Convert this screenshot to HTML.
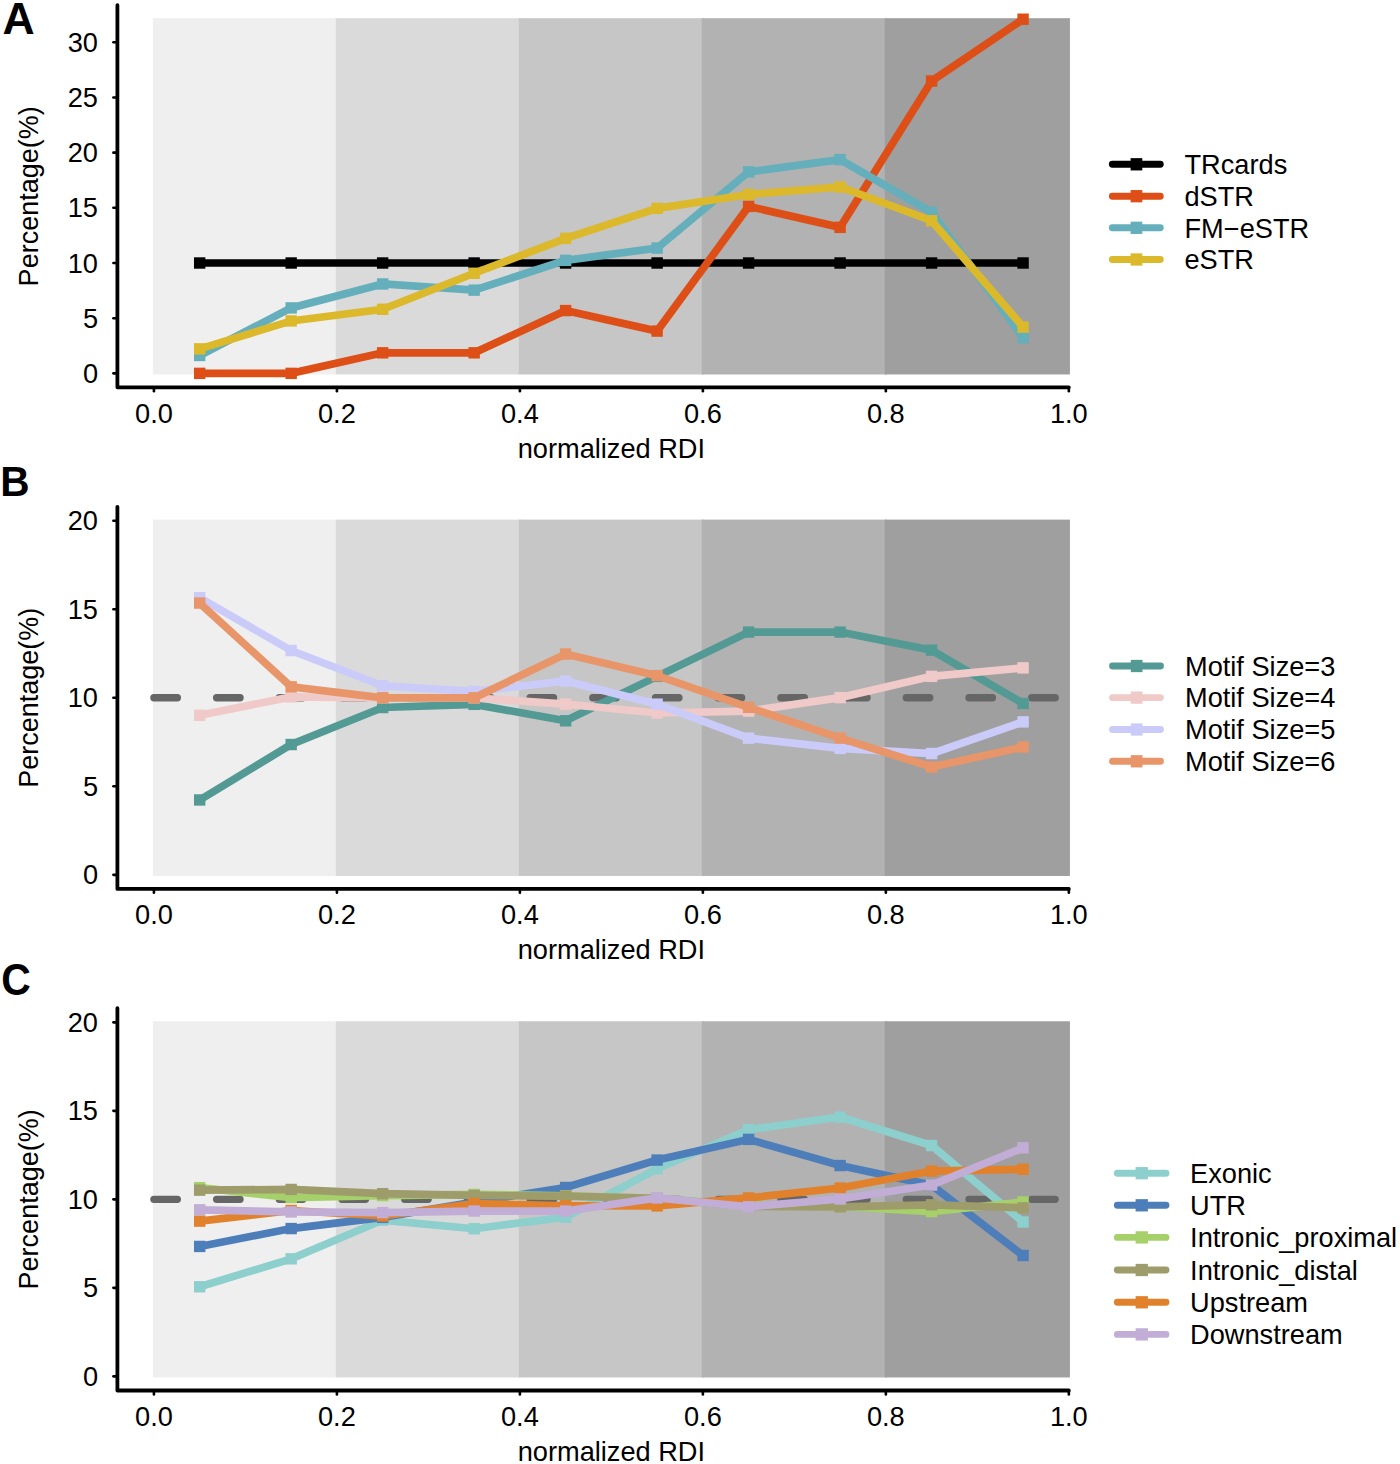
<!DOCTYPE html><html><head><meta charset="utf-8"><style>html,body{margin:0;padding:0;background:#fff;overflow:hidden;}svg{display:block;}text{font-family:"Liberation Sans", sans-serif;}</style></head><body>
<svg width="1400" height="1464" viewBox="0 0 1400 1464">
<rect x="0" y="0" width="1400" height="1464" fill="#fff"/>
<rect x="152.83" y="18.20" width="185.18" height="356.26" fill="#efefef"/>
<rect x="335.81" y="18.20" width="185.18" height="356.26" fill="#dadada"/>
<rect x="518.79" y="18.20" width="185.18" height="356.26" fill="#c6c6c6"/>
<rect x="701.77" y="18.20" width="185.18" height="356.26" fill="#b2b2b2"/>
<rect x="884.75" y="18.20" width="185.18" height="356.26" fill="#9f9f9f"/>
<polyline points="199.68,263.00 291.17,263.00 382.65,263.00 474.15,263.00 565.63,263.00 657.12,263.00 748.62,263.00 840.11,263.00 931.60,263.00 1023.09,263.00" fill="none" stroke="#000000" stroke-width="7.7" stroke-linejoin="miter" stroke-linecap="butt"/>
<rect x="193.98" y="257.30" width="11.4" height="11.4" fill="#000000"/>
<rect x="285.47" y="257.30" width="11.4" height="11.4" fill="#000000"/>
<rect x="376.95" y="257.30" width="11.4" height="11.4" fill="#000000"/>
<rect x="468.45" y="257.30" width="11.4" height="11.4" fill="#000000"/>
<rect x="559.93" y="257.30" width="11.4" height="11.4" fill="#000000"/>
<rect x="651.42" y="257.30" width="11.4" height="11.4" fill="#000000"/>
<rect x="742.91" y="257.30" width="11.4" height="11.4" fill="#000000"/>
<rect x="834.40" y="257.30" width="11.4" height="11.4" fill="#000000"/>
<rect x="925.89" y="257.30" width="11.4" height="11.4" fill="#000000"/>
<rect x="1017.38" y="257.30" width="11.4" height="11.4" fill="#000000"/>
<polyline points="199.68,373.36 291.17,373.36 382.65,352.83 474.15,352.83 565.63,310.57 657.12,331.09 748.62,206.39 840.11,227.35 931.60,81.02 1023.09,19.21" fill="none" stroke="#dd4f16" stroke-width="7.7" stroke-linejoin="miter" stroke-linecap="butt"/>
<rect x="193.98" y="367.66" width="11.4" height="11.4" fill="#dd4f16"/>
<rect x="285.47" y="367.66" width="11.4" height="11.4" fill="#dd4f16"/>
<rect x="376.95" y="347.13" width="11.4" height="11.4" fill="#dd4f16"/>
<rect x="468.45" y="347.13" width="11.4" height="11.4" fill="#dd4f16"/>
<rect x="559.93" y="304.87" width="11.4" height="11.4" fill="#dd4f16"/>
<rect x="651.42" y="325.39" width="11.4" height="11.4" fill="#dd4f16"/>
<rect x="742.91" y="200.69" width="11.4" height="11.4" fill="#dd4f16"/>
<rect x="834.40" y="221.65" width="11.4" height="11.4" fill="#dd4f16"/>
<rect x="925.89" y="75.32" width="11.4" height="11.4" fill="#dd4f16"/>
<rect x="1017.38" y="13.51" width="11.4" height="11.4" fill="#dd4f16"/>
<polyline points="199.68,355.48 291.17,307.92 382.65,283.97 474.15,290.15 565.63,260.35 657.12,248.10 748.62,171.84 840.11,159.59 931.60,212.23 1023.09,337.60" fill="none" stroke="#64afbb" stroke-width="7.7" stroke-linejoin="miter" stroke-linecap="butt"/>
<rect x="193.98" y="349.78" width="11.4" height="11.4" fill="#64afbb"/>
<rect x="285.47" y="302.22" width="11.4" height="11.4" fill="#64afbb"/>
<rect x="376.95" y="278.27" width="11.4" height="11.4" fill="#64afbb"/>
<rect x="468.45" y="284.45" width="11.4" height="11.4" fill="#64afbb"/>
<rect x="559.93" y="254.65" width="11.4" height="11.4" fill="#64afbb"/>
<rect x="651.42" y="242.40" width="11.4" height="11.4" fill="#64afbb"/>
<rect x="742.91" y="166.14" width="11.4" height="11.4" fill="#64afbb"/>
<rect x="834.40" y="153.89" width="11.4" height="11.4" fill="#64afbb"/>
<rect x="925.89" y="206.53" width="11.4" height="11.4" fill="#64afbb"/>
<rect x="1017.38" y="331.90" width="11.4" height="11.4" fill="#64afbb"/>
<polyline points="199.68,348.86 291.17,320.94 382.65,309.24 474.15,273.26 565.63,238.39 657.12,208.37 748.62,194.47 840.11,186.96 931.60,220.73 1023.09,327.12" fill="none" stroke="#dcb82b" stroke-width="7.7" stroke-linejoin="miter" stroke-linecap="butt"/>
<rect x="193.98" y="343.16" width="11.4" height="11.4" fill="#dcb82b"/>
<rect x="285.47" y="315.24" width="11.4" height="11.4" fill="#dcb82b"/>
<rect x="376.95" y="303.54" width="11.4" height="11.4" fill="#dcb82b"/>
<rect x="468.45" y="267.56" width="11.4" height="11.4" fill="#dcb82b"/>
<rect x="559.93" y="232.69" width="11.4" height="11.4" fill="#dcb82b"/>
<rect x="651.42" y="202.67" width="11.4" height="11.4" fill="#dcb82b"/>
<rect x="742.91" y="188.77" width="11.4" height="11.4" fill="#dcb82b"/>
<rect x="834.40" y="181.26" width="11.4" height="11.4" fill="#dcb82b"/>
<rect x="925.89" y="215.03" width="11.4" height="11.4" fill="#dcb82b"/>
<rect x="1017.38" y="321.42" width="11.4" height="11.4" fill="#dcb82b"/>
<path d="M117.40 5.20 L117.40 387.30 L1068.83 387.30" fill="none" stroke="#000" stroke-width="3.8" stroke-linecap="round" stroke-linejoin="round"/>
<line x1="117.40" y1="373.36" x2="113.4" y2="373.36" stroke="#000" stroke-width="2.6" stroke-linecap="round"/>
<text x="98" y="382.96" font-size="27.2" text-anchor="end">0</text>
<line x1="117.40" y1="318.18" x2="113.4" y2="318.18" stroke="#000" stroke-width="2.6" stroke-linecap="round"/>
<text x="98" y="327.78" font-size="27.2" text-anchor="end">5</text>
<line x1="117.40" y1="263.00" x2="113.4" y2="263.00" stroke="#000" stroke-width="2.6" stroke-linecap="round"/>
<text x="98" y="272.60" font-size="27.2" text-anchor="end">10</text>
<line x1="117.40" y1="207.82" x2="113.4" y2="207.82" stroke="#000" stroke-width="2.6" stroke-linecap="round"/>
<text x="98" y="217.42" font-size="27.2" text-anchor="end">15</text>
<line x1="117.40" y1="152.64" x2="113.4" y2="152.64" stroke="#000" stroke-width="2.6" stroke-linecap="round"/>
<text x="98" y="162.24" font-size="27.2" text-anchor="end">20</text>
<line x1="117.40" y1="97.46" x2="113.4" y2="97.46" stroke="#000" stroke-width="2.6" stroke-linecap="round"/>
<text x="98" y="107.06" font-size="27.2" text-anchor="end">25</text>
<line x1="117.40" y1="42.28" x2="113.4" y2="42.28" stroke="#000" stroke-width="2.6" stroke-linecap="round"/>
<text x="98" y="51.88" font-size="27.2" text-anchor="end">30</text>
<line x1="153.93" y1="387.30" x2="153.93" y2="391.20" stroke="#000" stroke-width="2.6" stroke-linecap="round"/>
<text x="153.93" y="422.60" font-size="27.2" text-anchor="middle">0.0</text>
<line x1="336.91" y1="387.30" x2="336.91" y2="391.20" stroke="#000" stroke-width="2.6" stroke-linecap="round"/>
<text x="336.91" y="422.60" font-size="27.2" text-anchor="middle">0.2</text>
<line x1="519.89" y1="387.30" x2="519.89" y2="391.20" stroke="#000" stroke-width="2.6" stroke-linecap="round"/>
<text x="519.89" y="422.60" font-size="27.2" text-anchor="middle">0.4</text>
<line x1="702.87" y1="387.30" x2="702.87" y2="391.20" stroke="#000" stroke-width="2.6" stroke-linecap="round"/>
<text x="702.87" y="422.60" font-size="27.2" text-anchor="middle">0.6</text>
<line x1="885.85" y1="387.30" x2="885.85" y2="391.20" stroke="#000" stroke-width="2.6" stroke-linecap="round"/>
<text x="885.85" y="422.60" font-size="27.2" text-anchor="middle">0.8</text>
<line x1="1068.83" y1="387.30" x2="1068.83" y2="391.20" stroke="#000" stroke-width="2.6" stroke-linecap="round"/>
<text x="1068.83" y="422.60" font-size="27.2" text-anchor="middle">1.0</text>
<text x="611.38" y="457.80" font-size="27.2" text-anchor="middle">normalized RDI</text>
<text x="0" y="0" font-size="27" text-anchor="middle" transform="translate(38.3 196.33) rotate(-90)">Percentage(%)</text>
<text x="0" y="0" font-size="44.5" font-weight="bold" transform="translate(2.40 34.30) scale(1.000 1)">A</text>
<line x1="1112.35" y1="164.30" x2="1160.25" y2="164.30" stroke="#000000" stroke-width="6.9" stroke-linecap="round"/>
<rect x="1130.60" y="158.15" width="11.7" height="12.3" fill="#000000"/>
<text x="1184.50" y="174.00" font-size="27.2">TRcards</text>
<line x1="1112.35" y1="196.20" x2="1160.25" y2="196.20" stroke="#dd4f16" stroke-width="6.9" stroke-linecap="round"/>
<rect x="1130.60" y="190.05" width="11.7" height="12.3" fill="#dd4f16"/>
<text x="1184.50" y="205.90" font-size="27.2">dSTR</text>
<line x1="1112.35" y1="227.80" x2="1160.25" y2="227.80" stroke="#64afbb" stroke-width="6.9" stroke-linecap="round"/>
<rect x="1130.60" y="221.65" width="11.7" height="12.3" fill="#64afbb"/>
<text x="1184.50" y="237.50" font-size="27.2">FM−eSTR</text>
<line x1="1112.35" y1="259.50" x2="1160.25" y2="259.50" stroke="#dcb82b" stroke-width="6.9" stroke-linecap="round"/>
<rect x="1130.60" y="253.35" width="11.7" height="12.3" fill="#dcb82b"/>
<text x="1184.50" y="269.20" font-size="27.2">eSTR</text>
<rect x="152.83" y="519.61" width="185.18" height="356.35" fill="#efefef"/>
<rect x="335.81" y="519.61" width="185.18" height="356.35" fill="#dadada"/>
<rect x="518.79" y="519.61" width="185.18" height="356.35" fill="#c6c6c6"/>
<rect x="701.77" y="519.61" width="185.18" height="356.35" fill="#b2b2b2"/>
<rect x="884.75" y="519.61" width="185.18" height="356.35" fill="#9f9f9f"/>
<line x1="153.93" y1="697.79" x2="1068.83" y2="697.79" stroke="#666666" stroke-width="7.4" stroke-dasharray="23.4 39.3" stroke-linecap="round"/>
<polyline points="199.68,799.96 291.17,744.53 382.65,707.52 474.15,704.34 565.63,720.80 657.12,676.36 748.62,632.09 840.11,632.09 931.60,650.15 1023.09,703.45" fill="none" stroke="#539a95" stroke-width="7.7" stroke-linejoin="miter" stroke-linecap="butt"/>
<rect x="193.98" y="794.26" width="11.4" height="11.4" fill="#539a95"/>
<rect x="285.47" y="738.83" width="11.4" height="11.4" fill="#539a95"/>
<rect x="376.95" y="701.82" width="11.4" height="11.4" fill="#539a95"/>
<rect x="468.45" y="698.64" width="11.4" height="11.4" fill="#539a95"/>
<rect x="559.93" y="715.10" width="11.4" height="11.4" fill="#539a95"/>
<rect x="651.42" y="670.66" width="11.4" height="11.4" fill="#539a95"/>
<rect x="742.91" y="626.39" width="11.4" height="11.4" fill="#539a95"/>
<rect x="834.40" y="626.39" width="11.4" height="11.4" fill="#539a95"/>
<rect x="925.89" y="644.45" width="11.4" height="11.4" fill="#539a95"/>
<rect x="1017.38" y="697.75" width="11.4" height="11.4" fill="#539a95"/>
<polyline points="199.68,715.32 291.17,696.90 382.65,697.79 474.15,697.79 565.63,704.16 657.12,713.01 748.62,711.07 840.11,697.61 931.60,676.36 1023.09,667.86" fill="none" stroke="#f0c9c9" stroke-width="7.7" stroke-linejoin="miter" stroke-linecap="butt"/>
<rect x="193.98" y="709.62" width="11.4" height="11.4" fill="#f0c9c9"/>
<rect x="285.47" y="691.20" width="11.4" height="11.4" fill="#f0c9c9"/>
<rect x="376.95" y="692.09" width="11.4" height="11.4" fill="#f0c9c9"/>
<rect x="468.45" y="692.09" width="11.4" height="11.4" fill="#f0c9c9"/>
<rect x="559.93" y="698.46" width="11.4" height="11.4" fill="#f0c9c9"/>
<rect x="651.42" y="707.31" width="11.4" height="11.4" fill="#f0c9c9"/>
<rect x="742.91" y="705.37" width="11.4" height="11.4" fill="#f0c9c9"/>
<rect x="834.40" y="691.91" width="11.4" height="11.4" fill="#f0c9c9"/>
<rect x="925.89" y="670.66" width="11.4" height="11.4" fill="#f0c9c9"/>
<rect x="1017.38" y="662.16" width="11.4" height="11.4" fill="#f0c9c9"/>
<polyline points="199.68,597.74 291.17,650.51 382.65,685.74 474.15,691.41 565.63,680.96 657.12,704.16 748.62,738.16 840.11,748.43 931.60,753.56 1023.09,721.87" fill="none" stroke="#cbcbfa" stroke-width="7.7" stroke-linejoin="miter" stroke-linecap="butt"/>
<rect x="193.98" y="592.04" width="11.4" height="11.4" fill="#cbcbfa"/>
<rect x="285.47" y="644.81" width="11.4" height="11.4" fill="#cbcbfa"/>
<rect x="376.95" y="680.04" width="11.4" height="11.4" fill="#cbcbfa"/>
<rect x="468.45" y="685.71" width="11.4" height="11.4" fill="#cbcbfa"/>
<rect x="559.93" y="675.26" width="11.4" height="11.4" fill="#cbcbfa"/>
<rect x="651.42" y="698.46" width="11.4" height="11.4" fill="#cbcbfa"/>
<rect x="742.91" y="732.46" width="11.4" height="11.4" fill="#cbcbfa"/>
<rect x="834.40" y="742.73" width="11.4" height="11.4" fill="#cbcbfa"/>
<rect x="925.89" y="747.86" width="11.4" height="11.4" fill="#cbcbfa"/>
<rect x="1017.38" y="716.17" width="11.4" height="11.4" fill="#cbcbfa"/>
<polyline points="199.68,603.05 291.17,686.81 382.65,697.79 474.15,697.79 565.63,654.05 657.12,675.65 748.62,707.35 840.11,738.16 931.60,767.02 1023.09,747.01" fill="none" stroke="#e8956a" stroke-width="7.7" stroke-linejoin="miter" stroke-linecap="butt"/>
<rect x="193.98" y="597.35" width="11.4" height="11.4" fill="#e8956a"/>
<rect x="285.47" y="681.11" width="11.4" height="11.4" fill="#e8956a"/>
<rect x="376.95" y="692.09" width="11.4" height="11.4" fill="#e8956a"/>
<rect x="468.45" y="692.09" width="11.4" height="11.4" fill="#e8956a"/>
<rect x="559.93" y="648.35" width="11.4" height="11.4" fill="#e8956a"/>
<rect x="651.42" y="669.95" width="11.4" height="11.4" fill="#e8956a"/>
<rect x="742.91" y="701.65" width="11.4" height="11.4" fill="#e8956a"/>
<rect x="834.40" y="732.46" width="11.4" height="11.4" fill="#e8956a"/>
<rect x="925.89" y="761.32" width="11.4" height="11.4" fill="#e8956a"/>
<rect x="1017.38" y="741.31" width="11.4" height="11.4" fill="#e8956a"/>
<path d="M117.40 506.80 L117.40 888.90 L1068.83 888.90" fill="none" stroke="#000" stroke-width="3.8" stroke-linecap="round" stroke-linejoin="round"/>
<line x1="117.40" y1="874.86" x2="113.4" y2="874.86" stroke="#000" stroke-width="2.6" stroke-linecap="round"/>
<text x="98" y="884.46" font-size="27.2" text-anchor="end">0</text>
<line x1="117.40" y1="786.32" x2="113.4" y2="786.32" stroke="#000" stroke-width="2.6" stroke-linecap="round"/>
<text x="98" y="795.92" font-size="27.2" text-anchor="end">5</text>
<line x1="117.40" y1="697.79" x2="113.4" y2="697.79" stroke="#000" stroke-width="2.6" stroke-linecap="round"/>
<text x="98" y="707.39" font-size="27.2" text-anchor="end">10</text>
<line x1="117.40" y1="609.25" x2="113.4" y2="609.25" stroke="#000" stroke-width="2.6" stroke-linecap="round"/>
<text x="98" y="618.85" font-size="27.2" text-anchor="end">15</text>
<line x1="117.40" y1="520.71" x2="113.4" y2="520.71" stroke="#000" stroke-width="2.6" stroke-linecap="round"/>
<text x="98" y="530.31" font-size="27.2" text-anchor="end">20</text>
<line x1="153.93" y1="888.90" x2="153.93" y2="892.80" stroke="#000" stroke-width="2.6" stroke-linecap="round"/>
<text x="153.93" y="924.20" font-size="27.2" text-anchor="middle">0.0</text>
<line x1="336.91" y1="888.90" x2="336.91" y2="892.80" stroke="#000" stroke-width="2.6" stroke-linecap="round"/>
<text x="336.91" y="924.20" font-size="27.2" text-anchor="middle">0.2</text>
<line x1="519.89" y1="888.90" x2="519.89" y2="892.80" stroke="#000" stroke-width="2.6" stroke-linecap="round"/>
<text x="519.89" y="924.20" font-size="27.2" text-anchor="middle">0.4</text>
<line x1="702.87" y1="888.90" x2="702.87" y2="892.80" stroke="#000" stroke-width="2.6" stroke-linecap="round"/>
<text x="702.87" y="924.20" font-size="27.2" text-anchor="middle">0.6</text>
<line x1="885.85" y1="888.90" x2="885.85" y2="892.80" stroke="#000" stroke-width="2.6" stroke-linecap="round"/>
<text x="885.85" y="924.20" font-size="27.2" text-anchor="middle">0.8</text>
<line x1="1068.83" y1="888.90" x2="1068.83" y2="892.80" stroke="#000" stroke-width="2.6" stroke-linecap="round"/>
<text x="1068.83" y="924.20" font-size="27.2" text-anchor="middle">1.0</text>
<text x="611.38" y="959.40" font-size="27.2" text-anchor="middle">normalized RDI</text>
<text x="0" y="0" font-size="27" text-anchor="middle" transform="translate(38.3 697.79) rotate(-90)">Percentage(%)</text>
<text x="0" y="0" font-size="43.2" font-weight="bold" transform="translate(0.15 496.10) scale(0.940 1)">B</text>
<line x1="1112.55" y1="666.00" x2="1160.45" y2="666.00" stroke="#539a95" stroke-width="6.9" stroke-linecap="round"/>
<rect x="1130.80" y="659.85" width="11.7" height="12.3" fill="#539a95"/>
<text x="1185.00" y="675.70" font-size="27.2">Motif Size=3</text>
<line x1="1112.55" y1="697.60" x2="1160.45" y2="697.60" stroke="#f0c9c9" stroke-width="6.9" stroke-linecap="round"/>
<rect x="1130.80" y="691.45" width="11.7" height="12.3" fill="#f0c9c9"/>
<text x="1185.00" y="707.30" font-size="27.2">Motif Size=4</text>
<line x1="1112.55" y1="729.50" x2="1160.45" y2="729.50" stroke="#cbcbfa" stroke-width="6.9" stroke-linecap="round"/>
<rect x="1130.80" y="723.35" width="11.7" height="12.3" fill="#cbcbfa"/>
<text x="1185.00" y="739.20" font-size="27.2">Motif Size=5</text>
<line x1="1112.55" y1="761.30" x2="1160.45" y2="761.30" stroke="#e8956a" stroke-width="6.9" stroke-linecap="round"/>
<rect x="1130.80" y="755.15" width="11.7" height="12.3" fill="#e8956a"/>
<text x="1185.00" y="771.00" font-size="27.2">Motif Size=6</text>
<rect x="152.83" y="1021.26" width="185.18" height="356.20" fill="#efefef"/>
<rect x="335.81" y="1021.26" width="185.18" height="356.20" fill="#dadada"/>
<rect x="518.79" y="1021.26" width="185.18" height="356.20" fill="#c6c6c6"/>
<rect x="701.77" y="1021.26" width="185.18" height="356.20" fill="#b2b2b2"/>
<rect x="884.75" y="1021.26" width="185.18" height="356.20" fill="#9f9f9f"/>
<line x1="153.93" y1="1199.36" x2="1068.83" y2="1199.36" stroke="#666666" stroke-width="7.4" stroke-dasharray="23.4 39.3" stroke-linecap="round"/>
<polyline points="199.68,1286.80 291.17,1258.83 382.65,1220.07 474.15,1228.74 565.63,1217.24 657.12,1168.74 748.62,1129.62 840.11,1117.05 931.60,1145.55 1023.09,1222.02" fill="none" stroke="#8dcfcc" stroke-width="7.7" stroke-linejoin="miter" stroke-linecap="butt"/>
<rect x="193.98" y="1281.10" width="11.4" height="11.4" fill="#8dcfcc"/>
<rect x="285.47" y="1253.13" width="11.4" height="11.4" fill="#8dcfcc"/>
<rect x="376.95" y="1214.37" width="11.4" height="11.4" fill="#8dcfcc"/>
<rect x="468.45" y="1223.04" width="11.4" height="11.4" fill="#8dcfcc"/>
<rect x="559.93" y="1211.54" width="11.4" height="11.4" fill="#8dcfcc"/>
<rect x="651.42" y="1163.04" width="11.4" height="11.4" fill="#8dcfcc"/>
<rect x="742.91" y="1123.92" width="11.4" height="11.4" fill="#8dcfcc"/>
<rect x="834.40" y="1111.35" width="11.4" height="11.4" fill="#8dcfcc"/>
<rect x="925.89" y="1139.85" width="11.4" height="11.4" fill="#8dcfcc"/>
<rect x="1017.38" y="1216.32" width="11.4" height="11.4" fill="#8dcfcc"/>
<polyline points="199.68,1246.44 291.17,1228.56 382.65,1217.41 474.15,1202.01 565.63,1187.50 657.12,1160.07 748.62,1139.36 840.11,1165.55 931.60,1185.20 1023.09,1255.47" fill="none" stroke="#4e7eba" stroke-width="7.7" stroke-linejoin="miter" stroke-linecap="butt"/>
<rect x="193.98" y="1240.74" width="11.4" height="11.4" fill="#4e7eba"/>
<rect x="285.47" y="1222.86" width="11.4" height="11.4" fill="#4e7eba"/>
<rect x="376.95" y="1211.71" width="11.4" height="11.4" fill="#4e7eba"/>
<rect x="468.45" y="1196.31" width="11.4" height="11.4" fill="#4e7eba"/>
<rect x="559.93" y="1181.80" width="11.4" height="11.4" fill="#4e7eba"/>
<rect x="651.42" y="1154.37" width="11.4" height="11.4" fill="#4e7eba"/>
<rect x="742.91" y="1133.66" width="11.4" height="11.4" fill="#4e7eba"/>
<rect x="834.40" y="1159.85" width="11.4" height="11.4" fill="#4e7eba"/>
<rect x="925.89" y="1179.50" width="11.4" height="11.4" fill="#4e7eba"/>
<rect x="1017.38" y="1249.77" width="11.4" height="11.4" fill="#4e7eba"/>
<polyline points="199.68,1187.68 291.17,1197.59 382.65,1195.64 474.15,1194.40 565.63,1195.82 657.12,1198.47 748.62,1205.02 840.11,1206.44 931.60,1211.57 1023.09,1202.01" fill="none" stroke="#a6d06a" stroke-width="7.7" stroke-linejoin="miter" stroke-linecap="butt"/>
<rect x="193.98" y="1181.98" width="11.4" height="11.4" fill="#a6d06a"/>
<rect x="285.47" y="1191.89" width="11.4" height="11.4" fill="#a6d06a"/>
<rect x="376.95" y="1189.94" width="11.4" height="11.4" fill="#a6d06a"/>
<rect x="468.45" y="1188.70" width="11.4" height="11.4" fill="#a6d06a"/>
<rect x="559.93" y="1190.12" width="11.4" height="11.4" fill="#a6d06a"/>
<rect x="651.42" y="1192.77" width="11.4" height="11.4" fill="#a6d06a"/>
<rect x="742.91" y="1199.32" width="11.4" height="11.4" fill="#a6d06a"/>
<rect x="834.40" y="1200.74" width="11.4" height="11.4" fill="#a6d06a"/>
<rect x="925.89" y="1205.87" width="11.4" height="11.4" fill="#a6d06a"/>
<rect x="1017.38" y="1196.31" width="11.4" height="11.4" fill="#a6d06a"/>
<polyline points="199.68,1190.16 291.17,1189.45 382.65,1193.70 474.15,1195.47 565.63,1196.17 657.12,1198.47 748.62,1206.44 840.11,1206.79 931.60,1204.85 1023.09,1207.86" fill="none" stroke="#9f9c6b" stroke-width="7.7" stroke-linejoin="miter" stroke-linecap="butt"/>
<rect x="193.98" y="1184.46" width="11.4" height="11.4" fill="#9f9c6b"/>
<rect x="285.47" y="1183.75" width="11.4" height="11.4" fill="#9f9c6b"/>
<rect x="376.95" y="1188.00" width="11.4" height="11.4" fill="#9f9c6b"/>
<rect x="468.45" y="1189.77" width="11.4" height="11.4" fill="#9f9c6b"/>
<rect x="559.93" y="1190.47" width="11.4" height="11.4" fill="#9f9c6b"/>
<rect x="651.42" y="1192.77" width="11.4" height="11.4" fill="#9f9c6b"/>
<rect x="742.91" y="1200.74" width="11.4" height="11.4" fill="#9f9c6b"/>
<rect x="834.40" y="1201.09" width="11.4" height="11.4" fill="#9f9c6b"/>
<rect x="925.89" y="1199.15" width="11.4" height="11.4" fill="#9f9c6b"/>
<rect x="1017.38" y="1202.16" width="11.4" height="11.4" fill="#9f9c6b"/>
<polyline points="199.68,1221.13 291.17,1210.51 382.65,1216.00 474.15,1203.61 565.63,1205.73 657.12,1205.91 748.62,1197.94 840.11,1188.03 931.60,1171.04 1023.09,1169.27" fill="none" stroke="#e1812c" stroke-width="7.7" stroke-linejoin="miter" stroke-linecap="butt"/>
<rect x="193.98" y="1215.43" width="11.4" height="11.4" fill="#e1812c"/>
<rect x="285.47" y="1204.81" width="11.4" height="11.4" fill="#e1812c"/>
<rect x="376.95" y="1210.30" width="11.4" height="11.4" fill="#e1812c"/>
<rect x="468.45" y="1197.91" width="11.4" height="11.4" fill="#e1812c"/>
<rect x="559.93" y="1200.03" width="11.4" height="11.4" fill="#e1812c"/>
<rect x="651.42" y="1200.21" width="11.4" height="11.4" fill="#e1812c"/>
<rect x="742.91" y="1192.24" width="11.4" height="11.4" fill="#e1812c"/>
<rect x="834.40" y="1182.33" width="11.4" height="11.4" fill="#e1812c"/>
<rect x="925.89" y="1165.34" width="11.4" height="11.4" fill="#e1812c"/>
<rect x="1017.38" y="1163.57" width="11.4" height="11.4" fill="#e1812c"/>
<polyline points="199.68,1209.80 291.17,1211.93 382.65,1212.63 474.15,1211.04 565.63,1211.04 657.12,1197.94 748.62,1206.79 840.11,1199.01 931.60,1185.02 1023.09,1147.85" fill="none" stroke="#c2add6" stroke-width="7.7" stroke-linejoin="miter" stroke-linecap="butt"/>
<rect x="193.98" y="1204.10" width="11.4" height="11.4" fill="#c2add6"/>
<rect x="285.47" y="1206.23" width="11.4" height="11.4" fill="#c2add6"/>
<rect x="376.95" y="1206.93" width="11.4" height="11.4" fill="#c2add6"/>
<rect x="468.45" y="1205.34" width="11.4" height="11.4" fill="#c2add6"/>
<rect x="559.93" y="1205.34" width="11.4" height="11.4" fill="#c2add6"/>
<rect x="651.42" y="1192.24" width="11.4" height="11.4" fill="#c2add6"/>
<rect x="742.91" y="1201.09" width="11.4" height="11.4" fill="#c2add6"/>
<rect x="834.40" y="1193.31" width="11.4" height="11.4" fill="#c2add6"/>
<rect x="925.89" y="1179.32" width="11.4" height="11.4" fill="#c2add6"/>
<rect x="1017.38" y="1142.15" width="11.4" height="11.4" fill="#c2add6"/>
<path d="M117.40 1008.20 L117.40 1390.50 L1068.83 1390.50" fill="none" stroke="#000" stroke-width="3.8" stroke-linecap="round" stroke-linejoin="round"/>
<line x1="117.40" y1="1376.36" x2="113.4" y2="1376.36" stroke="#000" stroke-width="2.6" stroke-linecap="round"/>
<text x="98" y="1385.96" font-size="27.2" text-anchor="end">0</text>
<line x1="117.40" y1="1287.86" x2="113.4" y2="1287.86" stroke="#000" stroke-width="2.6" stroke-linecap="round"/>
<text x="98" y="1297.46" font-size="27.2" text-anchor="end">5</text>
<line x1="117.40" y1="1199.36" x2="113.4" y2="1199.36" stroke="#000" stroke-width="2.6" stroke-linecap="round"/>
<text x="98" y="1208.96" font-size="27.2" text-anchor="end">10</text>
<line x1="117.40" y1="1110.86" x2="113.4" y2="1110.86" stroke="#000" stroke-width="2.6" stroke-linecap="round"/>
<text x="98" y="1120.46" font-size="27.2" text-anchor="end">15</text>
<line x1="117.40" y1="1022.36" x2="113.4" y2="1022.36" stroke="#000" stroke-width="2.6" stroke-linecap="round"/>
<text x="98" y="1031.96" font-size="27.2" text-anchor="end">20</text>
<line x1="153.93" y1="1390.50" x2="153.93" y2="1394.40" stroke="#000" stroke-width="2.6" stroke-linecap="round"/>
<text x="153.93" y="1425.80" font-size="27.2" text-anchor="middle">0.0</text>
<line x1="336.91" y1="1390.50" x2="336.91" y2="1394.40" stroke="#000" stroke-width="2.6" stroke-linecap="round"/>
<text x="336.91" y="1425.80" font-size="27.2" text-anchor="middle">0.2</text>
<line x1="519.89" y1="1390.50" x2="519.89" y2="1394.40" stroke="#000" stroke-width="2.6" stroke-linecap="round"/>
<text x="519.89" y="1425.80" font-size="27.2" text-anchor="middle">0.4</text>
<line x1="702.87" y1="1390.50" x2="702.87" y2="1394.40" stroke="#000" stroke-width="2.6" stroke-linecap="round"/>
<text x="702.87" y="1425.80" font-size="27.2" text-anchor="middle">0.6</text>
<line x1="885.85" y1="1390.50" x2="885.85" y2="1394.40" stroke="#000" stroke-width="2.6" stroke-linecap="round"/>
<text x="885.85" y="1425.80" font-size="27.2" text-anchor="middle">0.8</text>
<line x1="1068.83" y1="1390.50" x2="1068.83" y2="1394.40" stroke="#000" stroke-width="2.6" stroke-linecap="round"/>
<text x="1068.83" y="1425.80" font-size="27.2" text-anchor="middle">1.0</text>
<text x="611.38" y="1461.00" font-size="27.2" text-anchor="middle">normalized RDI</text>
<text x="0" y="0" font-size="27" text-anchor="middle" transform="translate(38.3 1199.36) rotate(-90)">Percentage(%)</text>
<text x="0" y="0" font-size="44.5" font-weight="bold" transform="translate(1.34 994.50) scale(0.920 1)">C</text>
<line x1="1117.35" y1="1173.20" x2="1165.95" y2="1173.20" stroke="#8dcfcc" stroke-width="6.9" stroke-linecap="round"/>
<rect x="1135.60" y="1167.05" width="12.3" height="12.3" fill="#8dcfcc"/>
<text x="1190.10" y="1182.90" font-size="27.2">Exonic</text>
<line x1="1117.35" y1="1205.30" x2="1165.95" y2="1205.30" stroke="#4e7eba" stroke-width="6.9" stroke-linecap="round"/>
<rect x="1135.60" y="1199.15" width="12.3" height="12.3" fill="#4e7eba"/>
<text x="1190.10" y="1215.00" font-size="27.2">UTR</text>
<line x1="1117.35" y1="1237.40" x2="1165.95" y2="1237.40" stroke="#a6d06a" stroke-width="6.9" stroke-linecap="round"/>
<rect x="1135.60" y="1231.25" width="12.3" height="12.3" fill="#a6d06a"/>
<text x="1190.10" y="1247.10" font-size="27.2">Intronic_proximal</text>
<line x1="1117.35" y1="1270.00" x2="1165.95" y2="1270.00" stroke="#9f9c6b" stroke-width="6.9" stroke-linecap="round"/>
<rect x="1135.60" y="1263.85" width="12.3" height="12.3" fill="#9f9c6b"/>
<text x="1190.10" y="1279.70" font-size="27.2">Intronic_distal</text>
<line x1="1117.35" y1="1302.30" x2="1165.95" y2="1302.30" stroke="#e1812c" stroke-width="6.9" stroke-linecap="round"/>
<rect x="1135.60" y="1296.15" width="12.3" height="12.3" fill="#e1812c"/>
<text x="1190.10" y="1312.00" font-size="27.2">Upstream</text>
<line x1="1117.35" y1="1334.40" x2="1165.95" y2="1334.40" stroke="#c2add6" stroke-width="6.9" stroke-linecap="round"/>
<rect x="1135.60" y="1328.25" width="12.3" height="12.3" fill="#c2add6"/>
<text x="1190.10" y="1344.10" font-size="27.2">Downstream</text>
</svg></body></html>
